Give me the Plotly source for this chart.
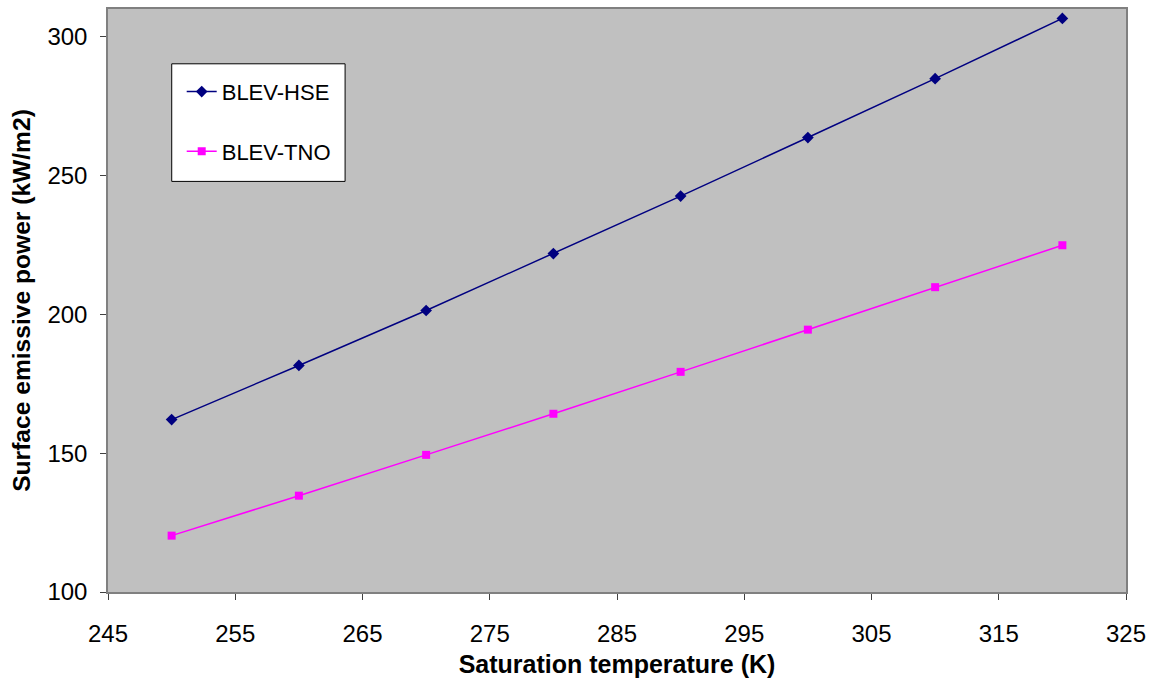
import plotly.graph_objects as go

# Saturation temperature (K)
temps = [250, 260, 270, 280, 290, 300, 310, 320]
# Surface emissive power (kW/m2) for each model
hse_power = [162.1, 181.6, 201.4, 221.9, 242.6, 263.7, 284.9, 306.6]
tno_power = [120.3, 134.7, 149.4, 164.2, 179.3, 194.5, 209.8, 224.9]

x_ticks = [245, 255, 265, 275, 285, 295, 305, 315, 325]
y_ticks = [100, 150, 200, 250, 300]

font_family = "Liberation Sans, Arial, sans-serif"

fig = go.Figure()
fig.add_trace(go.Scatter(
    x=temps, y=hse_power, mode="lines+markers", name="BLEV-HSE",
    legendgroup="hse",
    line=dict(color="#000080", width=1.5),
    marker=dict(symbol="diamond", size=9, color="#000080"),
))
fig.add_trace(go.Scatter(
    x=temps, y=tno_power, mode="lines+markers", name="BLEV-TNO",
    legendgroup="tno",
    line=dict(color="#FF00FF", width=1.5),
    marker=dict(symbol="square", size=8, color="#FF00FF"),
))

axis_common = dict(
    showgrid=False, zeroline=False,
    showline=True, linecolor="#808080", linewidth=1.5, mirror=True,
    ticks="outside", ticklen=6, tickcolor="#404040", tickwidth=1,
    tickfont=dict(family=font_family, size=24, color="black"),
)

fig.update_xaxes(
    range=[245, 325], tickvals=x_ticks, ticklabelstandoff=13,
    title=dict(text="<b>Saturation temperature (K)</b>",
               font=dict(family=font_family, size=25, color="black"), standoff=10),
    **axis_common,
)
fig.update_yaxes(
    range=[100, 310], tickvals=y_ticks, ticklabelstandoff=8,
    title=dict(text="<b>Surface emissive power (kW/m2)</b>",
               font=dict(family=font_family, size=24.6, color="black"), standoff=10),
    **axis_common,
)

# Legend frame drawn as a paper-anchored box; entries sit inside it
fig.add_shape(
    type="rect", xref="paper", yref="paper",
    x0=0.0626, x1=0.2329, y0=0.7043, y1=0.906,
    fillcolor="white", line=dict(color="black", width=1), layer="above",
)

fig.update_layout(
    width=1153, height=683,
    margin=dict(l=108, r=21, t=7, b=91),
    paper_bgcolor="white", plot_bgcolor="#C0C0C0",
    font=dict(family=font_family, color="black"),
    legend=dict(
        x=0.0724, y=0.894, xanchor="left", yanchor="top",
        bgcolor="rgba(0,0,0,0)", borderwidth=0,
        font=dict(family=font_family, size=22, color="black"),
        traceorder="grouped", tracegroupgap=28,
        itemwidth=30,
    ),
    showlegend=True,
)

fig.write_html("out.html")
